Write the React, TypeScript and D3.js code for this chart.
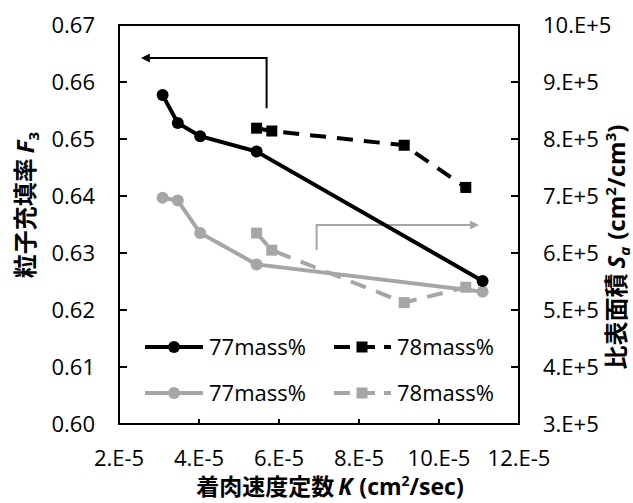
import React from 'react';
import * as d3 from 'd3';

// x: 着肉速度定数 K (×1E-5 cm²/sec)
const kValues77 = [3.09, 3.47, 4.03, 5.44, 11.09];
const kValues78 = [5.44, 5.82, 9.13, 10.67];

// left axis: 粒子充填率 F3
const f3_77 = [0.6577, 0.6528, 0.6505, 0.6478, 0.6251];
const f3_78 = [0.6519, 0.6514, 0.6489, 0.6415];

// right axis: 比表面積 Sa (×1E5 cm²/cm³)
const sa_77 = [6.97, 6.92, 6.35, 5.8, 5.32];
const sa_78 = [6.35, 6.05, 5.13, 5.4];

const xTicks = [2, 4, 6, 8, 10, 12];
const leftTicks = [0.6, 0.61, 0.62, 0.63, 0.64, 0.65, 0.66, 0.67];
const rightTicks = [3, 4, 5, 6, 7, 8, 9, 10];
const legendLabels = ['77mass%', '78mass%'];

const W = 633;
const H = 503;
const margin = { top: 25, right: 114, bottom: 79, left: 119 };
const BLACK = '#000000';
const GRAY = '#a6a6a6';
const FONT = '"Open Sans", "Noto Sans CJK JP", sans-serif';
const CJK = '"Noto Sans CJK JP", "Open Sans", sans-serif';

const App = () => {
  const x = d3.scaleLinear().domain([2, 12]).range([margin.left, W - margin.right]);
  const yL = d3.scaleLinear().domain([0.6, 0.67]).range([H - margin.bottom, margin.top]);
  const yR = d3.scaleLinear().domain([3, 10]).range([H - margin.bottom, margin.top]);

  const line = d3.line<[number, number]>().x(d => d[0]).y(d => d[1]);

  const black77 = kValues77.map((k, i) => [x(k), yL(f3_77[i])] as [number, number]);
  const black78 = kValues78.map((k, i) => [x(k), yL(f3_78[i])] as [number, number]);
  const gray77 = kValues77.map((k, i) => [x(k), yR(sa_77[i])] as [number, number]);
  const gray78 = kValues78.map((k, i) => [x(k), yR(sa_78[i])] as [number, number]);

  const x0 = margin.left;
  const x1 = W - margin.right;
  const y0 = H - margin.bottom;
  const y1 = margin.top;

  const dash = '16,11';
  const sq = 11;

  // arrows pointing to each axis
  const blackArrow: [number, number][] = [
    [x(5.69), yL(0.6554)],
    [x(5.69), yL(0.6642)],
    [x(2.75), yL(0.6642)],
  ];
  const grayArrow: [number, number][] = [
    [x(6.94), yR(6.05)],
    [x(6.94), yR(6.49)],
    [x(10.8), yR(6.49)],
  ];

  const legendRows = [
    { y: 347, color: BLACK },
    { y: 393, color: GRAY },
  ];

  return (
    <svg width={W} height={H} style={{ position: 'absolute', left: 0, top: 0, background: '#fff' }}>
      <defs>
        <marker id="headBlack" viewBox="0 0 10 10" refX="1" refY="5" markerWidth="4.5" markerHeight="4.5" orient="auto">
          <path d="M0,0 L10,5 L0,10 z" fill={BLACK} />
        </marker>
        <marker id="headGray" viewBox="0 0 10 10" refX="1" refY="5" markerWidth="4.5" markerHeight="4.5" orient="auto">
          <path d="M0,0 L10,5 L0,10 z" fill={GRAY} />
        </marker>
      </defs>

      {/* frame */}
      <rect x={x0} y={y1} width={x1 - x0} height={y0 - y1} fill="none" stroke="#000" strokeWidth={2} />

      {/* x ticks */}
      {xTicks.map(t => (
        <g key={'x' + t}>
          <line x1={x(t)} x2={x(t)} y1={y0} y2={y0 - 5} stroke="#000" strokeWidth={2} />
          <text x={x(t)} y={466} textAnchor="middle" fontFamily={FONT} fontSize={22} fill="#000">
            {t + '.E-5'}
          </text>
        </g>
      ))}

      {/* left ticks */}
      {leftTicks.map(t => (
        <g key={'l' + t}>
          <line x1={x0} x2={x0 + 8} y1={yL(t)} y2={yL(t)} stroke="#000" strokeWidth={2} />
          <text x={95} y={yL(t) + 8} textAnchor="end" fontFamily={FONT} fontSize={22} fill="#000">
            {t.toFixed(2)}
          </text>
        </g>
      ))}

      {/* right ticks */}
      {rightTicks.map(t => (
        <g key={'r' + t}>
          <line x1={x1} x2={x1 - 8} y1={yR(t)} y2={yR(t)} stroke="#000" strokeWidth={2} />
          <text x={543} y={yR(t) + 8} textAnchor="start" fontFamily={FONT} fontSize={22} fill="#000">
            {t + '.E+5'}
          </text>
        </g>
      ))}

      {/* arrows */}
      <path d={line(blackArrow) || ''} fill="none" stroke={BLACK} strokeWidth={2} markerEnd="url(#headBlack)" />
      <path d={line(grayArrow) || ''} fill="none" stroke={GRAY} strokeWidth={2} markerEnd="url(#headGray)" />

      {/* gray series (right axis) */}
      <path d={line(gray78) || ''} fill="none" stroke={GRAY} strokeWidth={4} strokeDasharray={dash} />
      {gray78.map((p, i) => (
        <rect key={'g78' + i} x={p[0] - sq / 2} y={p[1] - sq / 2} width={sq} height={sq} fill={GRAY} />
      ))}
      <path d={line(gray77) || ''} fill="none" stroke={GRAY} strokeWidth={4} />
      {gray77.map((p, i) => (
        <circle key={'g77' + i} cx={p[0]} cy={p[1]} r={6} fill={GRAY} />
      ))}

      {/* black series (left axis) */}
      <path d={line(black78) || ''} fill="none" stroke={BLACK} strokeWidth={4} strokeDasharray={dash} />
      {black78.map((p, i) => (
        <rect key={'b78' + i} x={p[0] - sq / 2} y={p[1] - sq / 2} width={sq} height={sq} fill={BLACK} />
      ))}
      <path d={line(black77) || ''} fill="none" stroke={BLACK} strokeWidth={4} />
      {black77.map((p, i) => (
        <circle key={'b77' + i} cx={p[0]} cy={p[1]} r={6} fill={BLACK} />
      ))}

      {/* legend */}
      {legendRows.map((row, r) => (
        <g key={'leg' + r}>
          <line x1={145} x2={203} y1={row.y} y2={row.y} stroke={row.color} strokeWidth={4} />
          <circle cx={174} cy={row.y} r={6} fill={row.color} />
          <text x={209} y={row.y + 8} fontFamily={FONT} fontSize={22} fill="#000">{legendLabels[0]}</text>
          <line x1={334} x2={391} y1={row.y} y2={row.y} stroke={row.color} strokeWidth={4} strokeDasharray="16,9" />
          <rect x={362 - sq / 2} y={row.y - sq / 2} width={sq} height={sq} fill={row.color} />
          <text x={397} y={row.y + 8} fontFamily={FONT} fontSize={22} fill="#000">{legendLabels[1]}</text>
        </g>
      ))}

      {/* x title */}
      <text x={330} y={495} textAnchor="middle" fontFamily={CJK} fontWeight="bold" fontSize={23} fill="#000">
        着肉速度定数
        <tspan fontFamily={FONT} fontStyle="italic" dx={4}>K</tspan>
        <tspan fontFamily={FONT} dx={7}>(cm</tspan>
        <tspan fontFamily={FONT} fontSize={14} dy={-9}>2</tspan>
        <tspan fontFamily={FONT} dy={9}>/sec)</tspan>
      </text>

      {/* left title */}
      <text transform={`translate(34,205) rotate(-90)`} textAnchor="middle" fontFamily={CJK} fontWeight="bold" fontSize={24} fill="#000">
        粒子充填率
        <tspan fontFamily={FONT} fontStyle="italic" dx={5}>F</tspan>
        <tspan fontFamily={FONT} fontSize={15} dy={5}>3</tspan>
      </text>

      {/* right title */}
      <text transform={`translate(625,247) rotate(-90)`} textAnchor="middle" fontFamily={CJK} fontWeight="bold" fontSize={24} fill="#000">
        比表面積
        <tspan fontFamily={FONT} fontStyle="italic" dx={5}>S</tspan>
        <tspan fontFamily={FONT} fontStyle="italic" fontSize={15} dy={5}>a</tspan>
        <tspan fontFamily={FONT} dx={7} dy={-5}>(cm</tspan>
        <tspan fontFamily={FONT} fontSize={15} dy={-9}>2</tspan>
        <tspan fontFamily={FONT} dy={9}>/cm</tspan>
        <tspan fontFamily={FONT} fontSize={15} dy={-9}>3</tspan>
        <tspan fontFamily={FONT} dy={9}>)</tspan>
      </text>
    </svg>
  );
};

export default App;
